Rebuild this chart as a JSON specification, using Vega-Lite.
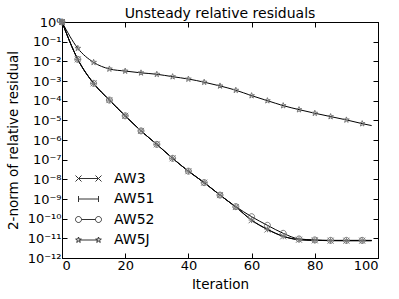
{
  "$schema": "https://vega.github.io/schema/vega-lite/v6.json",
  "autosize": {"type": "none"},
  "padding": {"left": 62, "top": 22, "right": 21, "bottom": 41},
  "width": 316,
  "height": 236,
  "title": {"text": "Unsteady relative residuals", "fontSize": 14, "font": "DejaVu Sans", "fontWeight": "normal", "color": "black", "offset": -5},
  "config": {
    "view": {"stroke": "black", "strokeWidth": 1},
    "font": "DejaVu Sans",
    "axis": {"grid": false, "domainColor": "black", "tickColor": "black", "labelColor": "black", "titleColor": "black", "labelFont": "DejaVu Sans", "titleFont": "DejaVu Sans", "labelFontSize": 13, "titleFontSize": 13.5, "titleFontWeight": "normal", "tickSize": -5, "labelPadding": 6}
  },
  "data": {"values": [
    {"series": "AW3", "iter": 0, "value": 1},
    {"series": "AW3", "iter": 5, "value": 1.26e-2},
    {"series": "AW3", "iter": 10, "value": 7.6e-4},
    {"series": "AW3", "iter": 15, "value": 1.07e-4},
    {"series": "AW3", "iter": 20, "value": 1.7e-5},
    {"series": "AW3", "iter": 25, "value": 2.9e-6},
    {"series": "AW3", "iter": 30, "value": 6.0e-7},
    {"series": "AW3", "iter": 35, "value": 1.17e-7},
    {"series": "AW3", "iter": 40, "value": 2.6e-8},
    {"series": "AW3", "iter": 45, "value": 6.8e-9},
    {"series": "AW3", "iter": 50, "value": 1.58e-9},
    {"series": "AW3", "iter": 55, "value": 3.9e-10},
    {"series": "AW3", "iter": 60, "value": 8.3e-11},
    {"series": "AW3", "iter": 65, "value": 2.8e-11},
    {"series": "AW3", "iter": 70, "value": 1.26e-11},
    {"series": "AW3", "iter": 75, "value": 8.5e-12},
    {"series": "AW3", "iter": 80, "value": 7.9e-12},
    {"series": "AW3", "iter": 85, "value": 7.6e-12},
    {"series": "AW3", "iter": 90, "value": 7.6e-12},
    {"series": "AW3", "iter": 95, "value": 7.6e-12},
    {"series": "AW3", "iter": 98, "value": 7.6e-12},
    {"series": "AW51", "iter": 0, "value": 1},
    {"series": "AW51", "iter": 5, "value": 1.26e-2},
    {"series": "AW51", "iter": 10, "value": 7.6e-4},
    {"series": "AW51", "iter": 15, "value": 1.07e-4},
    {"series": "AW51", "iter": 20, "value": 1.7e-5},
    {"series": "AW51", "iter": 25, "value": 2.9e-6},
    {"series": "AW51", "iter": 30, "value": 6.0e-7},
    {"series": "AW51", "iter": 35, "value": 1.17e-7},
    {"series": "AW51", "iter": 40, "value": 2.6e-8},
    {"series": "AW51", "iter": 45, "value": 6.8e-9},
    {"series": "AW51", "iter": 50, "value": 1.58e-9},
    {"series": "AW51", "iter": 55, "value": 3.9e-10},
    {"series": "AW51", "iter": 60, "value": 8.5e-11},
    {"series": "AW51", "iter": 65, "value": 2.9e-11},
    {"series": "AW51", "iter": 70, "value": 1.28e-11},
    {"series": "AW51", "iter": 75, "value": 8.6e-12},
    {"series": "AW51", "iter": 80, "value": 7.9e-12},
    {"series": "AW51", "iter": 85, "value": 7.7e-12},
    {"series": "AW51", "iter": 90, "value": 7.6e-12},
    {"series": "AW51", "iter": 95, "value": 7.6e-12},
    {"series": "AW51", "iter": 98, "value": 7.6e-12},
    {"series": "AW52", "iter": 0, "value": 1},
    {"series": "AW52", "iter": 5, "value": 1.26e-2},
    {"series": "AW52", "iter": 10, "value": 7.6e-4},
    {"series": "AW52", "iter": 15, "value": 1.07e-4},
    {"series": "AW52", "iter": 20, "value": 1.7e-5},
    {"series": "AW52", "iter": 25, "value": 2.9e-6},
    {"series": "AW52", "iter": 30, "value": 6.0e-7},
    {"series": "AW52", "iter": 35, "value": 1.17e-7},
    {"series": "AW52", "iter": 40, "value": 2.6e-8},
    {"series": "AW52", "iter": 45, "value": 6.8e-9},
    {"series": "AW52", "iter": 50, "value": 1.58e-9},
    {"series": "AW52", "iter": 55, "value": 4.1e-10},
    {"series": "AW52", "iter": 60, "value": 1.26e-10},
    {"series": "AW52", "iter": 65, "value": 4.6e-11},
    {"series": "AW52", "iter": 70, "value": 1.8e-11},
    {"series": "AW52", "iter": 75, "value": 9.3e-12},
    {"series": "AW52", "iter": 80, "value": 8.3e-12},
    {"series": "AW52", "iter": 85, "value": 7.9e-12},
    {"series": "AW52", "iter": 90, "value": 7.9e-12},
    {"series": "AW52", "iter": 95, "value": 7.9e-12},
    {"series": "AW52", "iter": 98, "value": 7.9e-12},
    {"series": "AW5J", "iter": 0, "value": 1},
    {"series": "AW5J", "iter": 5, "value": 4.6e-2},
    {"series": "AW5J", "iter": 10, "value": 8.9e-3},
    {"series": "AW5J", "iter": 15, "value": 4.1e-3},
    {"series": "AW5J", "iter": 20, "value": 3.2e-3},
    {"series": "AW5J", "iter": 25, "value": 2.6e-3},
    {"series": "AW5J", "iter": 30, "value": 2.2e-3},
    {"series": "AW5J", "iter": 35, "value": 1.66e-3},
    {"series": "AW5J", "iter": 40, "value": 1.26e-3},
    {"series": "AW5J", "iter": 45, "value": 8.7e-4},
    {"series": "AW5J", "iter": 50, "value": 5.6e-4},
    {"series": "AW5J", "iter": 55, "value": 3.4e-4},
    {"series": "AW5J", "iter": 60, "value": 1.8e-4},
    {"series": "AW5J", "iter": 65, "value": 1.0e-4},
    {"series": "AW5J", "iter": 70, "value": 5.6e-5},
    {"series": "AW5J", "iter": 75, "value": 3.5e-5},
    {"series": "AW5J", "iter": 80, "value": 2.3e-5},
    {"series": "AW5J", "iter": 85, "value": 1.55e-5},
    {"series": "AW5J", "iter": 90, "value": 1.05e-5},
    {"series": "AW5J", "iter": 95, "value": 6.8e-6},
    {"series": "AW5J", "iter": 98, "value": 5.4e-6}
  ]},
  "layer": [
    {
      "mark": {"type": "line", "interpolate": "monotone", "color": "black", "strokeWidth": 1},
      "encoding": {
        "x": {"field": "iter", "type": "quantitative", "scale": {"domain": [0, 100], "nice": false},
              "axis": {"orient": "bottom", "title": "Iteration", "values": [0, 20, 40, 60, 80, 100], "titlePadding": 5}},
        "y": {"field": "value", "type": "quantitative", "scale": {"type": "log", "domain": [1e-12, 1], "nice": false},
              "axis": {"orient": "left", "title": "2-norm of relative residual", "titlePadding": 7,
                       "values": [1, 1e-1, 1e-2, 1e-3, 1e-4, 1e-5, 1e-6, 1e-7, 1e-8, 1e-9, 1e-10, 1e-11, 1e-12],
                       "labelExpr": "'10' + (datum.value < 0.99 ? '⁻' : '') + ['⁰','¹','²','³','⁴','⁵','⁶','⁷','⁸','⁹','¹⁰','¹¹','¹²'][round(-log(datum.value)/LN10)]"}},
        "detail": {"field": "series", "type": "nominal"}
      }
    },
    {
      "transform": [{"filter": "datum.iter <= 95"}],
      "mark": {"type": "point", "filled": false, "stroke": "#777777", "strokeWidth": 1, "size": 36, "opacity": 1},
      "encoding": {
        "x": {"field": "iter", "type": "quantitative", "scale": {"domain": [0, 100], "nice": false},
              "axis": {"orient": "top", "labels": false, "title": null, "values": [0, 20, 40, 60, 80, 100]}},
        "y": {"field": "value", "type": "quantitative", "scale": {"type": "log", "domain": [1e-12, 1], "nice": false},
              "axis": {"orient": "right", "labels": false, "title": null,
                       "values": [1, 1e-1, 1e-2, 1e-3, 1e-4, 1e-5, 1e-6, 1e-7, 1e-8, 1e-9, 1e-10, 1e-11, 1e-12]}},
        "shape": {"field": "series", "type": "nominal", "legend": null,
          "scale": {"domain": ["AW3", "AW51", "AW52", "AW5J"],
                    "range": ["M-1,-1L1,1M-1,1L1,-1", "M-1,0L1,0M0,-1L0,1", "M1,0A1,1,0,1,1,-1,0A1,1,0,1,1,1,0Z", "M0,-1L0.235,-0.324L0.951,-0.309L0.38,0.124L0.588,0.809L0,0.4L-0.588,0.809L-0.38,0.124L-0.951,-0.309L-0.235,-0.324Z"]}
        }
      }
    },
    {
      "transform": [{"filter": "datum.iter == 0"}],
      "mark": {"type": "point", "filled": false, "opacity": 0, "size": 400},
      "encoding": {
        "x": {"field": "iter", "type": "quantitative", "axis": null},
        "y": {"field": "value", "type": "quantitative", "axis": null},
        "shape": {"field": "series", "type": "nominal",
          "scale": {"domain": ["AW3", "AW51", "AW52", "AW5J"],
                    "range": ["M-1,0L1,0M-1.3,-0.3L-0.7,0.3M-1.3,0.3L-0.7,-0.3M0.7,-0.3L1.3,0.3M0.7,0.3L1.3,-0.3", "M-1,0L1,0M-1,-0.3L-1,0.3M1,-0.3L1,0.3", "M-0.7,0L0.7,0M-0.7,0A0.3,0.3,0,1,1,-1.3,0A0.3,0.3,0,1,1,-0.7,0M1.3,0A0.3,0.3,0,1,1,0.7,0A0.3,0.3,0,1,1,1.3,0", "M-1,0L1,0M-1,-0.3L-0.93,-0.1L-0.715,-0.093L-0.886,0.037L-0.824,0.243L-1,0.12L-1.176,0.243L-1.114,0.037L-1.285,-0.093L-1.07,-0.1ZM1,-0.3L1.07,-0.1L1.285,-0.093L1.114,0.037L1.176,0.243L1,0.12L0.824,0.243L0.886,0.037L0.715,-0.093L0.93,-0.1Z"]},
          "legend": {"title": null, "orient": "none", "legendX": 16, "legendY": 146, "labelFontSize": 14, "labelFont": "DejaVu Sans", "labelColor": "black", "symbolSize": 400, "rowPadding": 2.5, "labelOffset": 15,
            "symbolOpacity": 1, "symbolStrokeColor": "#333333", "symbolFillColor": "transparent", "symbolStrokeWidth": 1}
        }
      }
    }
  ],
  "resolve": {"axis": {"x": "independent", "y": "independent"}, "scale": {"shape": "independent"}}
}
